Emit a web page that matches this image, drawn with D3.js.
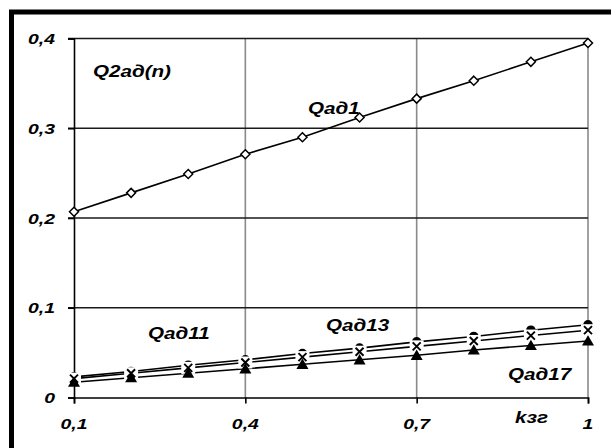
<!DOCTYPE html>
<html>
<head>
<meta charset="utf-8">
<script src="https://cdn.jsdelivr.net/npm/d3@7"></script>
<style>
  html, body { margin: 0; padding: 0; background: #fff; }
  svg { display: block; }
  text { font-family: "Liberation Sans", Arial, sans-serif; font-weight: bold; font-style: italic; fill: #000; }
</style>
</head>
<body>
<svg id="chart" width="611" height="448"></svg>
<script>
// Load factor kзг (x axis)
const kzg = [0.1, 0.2, 0.3, 0.4, 0.5, 0.6, 0.7, 0.8, 0.9, 1.0];

// Q2ад(n) by harmonic
const qad1  = [0.207, 0.228, 0.249, 0.271, 0.290, 0.312, 0.333, 0.353, 0.374, 0.395];
const qad11 = [0.023, 0.029, 0.036, 0.042, 0.049, 0.055, 0.062, 0.068, 0.075, 0.081];
const qad13 = [0.021, 0.027, 0.033, 0.039, 0.045, 0.051, 0.057, 0.063, 0.069, 0.075];
const qad17 = [0.017, 0.022, 0.027, 0.032, 0.037, 0.042, 0.047, 0.053, 0.058, 0.063];

// Axis ticks and their labels
const xTicks = [0.1, 0.4, 0.7, 1.0];
const xTickLabels = ["0,1", "0,4", "0,7", "1"];
const yTicks = [0, 0.1, 0.2, 0.3, 0.4];
const yTickLabels = ["0", "0,1", "0,2", "0,3", "0,4"];

const svg = d3.select("#chart");
const x = d3.scaleLinear().domain([0.1, 1.0]).range([74, 588]);
const y = d3.scaleLinear().domain([0, 0.4]).range([397.5, 38.5]);

const SX = 1.25; // horizontal stretch of the lettering

function label(txt, px, py, anchor, size) {
  svg.append("text")
    .attr("transform", `translate(${px},${py}) scale(${SX},1)`)
    .attr("text-anchor", anchor || "start")
    .style("font-size", (size || 15.5) + "px")
    .text(txt);
}

// Outer frame (runs past the right and bottom edges)
svg.append("rect")
  .attr("x", 11.5).attr("y", 12)
  .attr("width", 700).attr("height", 500)
  .attr("fill", "none").attr("stroke", "#000").attr("stroke-width", 5);

// Vertical grid lines (grey)
svg.append("g").selectAll("line")
  .data(xTicks.slice(1))
  .join("line")
  .attr("x1", d => x(d)).attr("x2", d => x(d))
  .attr("y1", y(0.4)).attr("y2", y(0))
  .attr("stroke", "#8a8a8a").attr("stroke-width", 1.6);

// Horizontal grid lines (dark) with left tick stubs
svg.append("g").selectAll("line")
  .data(yTicks.filter(d => d > 0))
  .join("line")
  .attr("x1", x(0.1) - 6).attr("x2", x(1.0))
  .attr("y1", d => y(d)).attr("y2", d => y(d))
  .attr("stroke", "#1a1a1a").attr("stroke-width", 1.4);

// Axes
const yAxis = d3.axisLeft(y).tickValues(yTicks).tickSize(6).tickFormat("");
const xAxis = d3.axisBottom(x).tickValues(xTicks).tickSize(6).tickFormat("");
const gy = svg.append("g").attr("transform", `translate(${x(0.1)},0)`).call(yAxis);
const gx = svg.append("g").attr("transform", `translate(0,${y(0)})`).call(xAxis);
[gx, gy].forEach(g => {
  g.select(".domain").attr("stroke", "#000").attr("stroke-width", 1.6);
  g.selectAll(".tick line").attr("stroke", "#000").attr("stroke-width", 1.6);
});

// Tick labels
yTicks.forEach((v, i) => label(yTickLabels[i], 55, y(v) + 5.5, "end", 15.5));
xTicks.forEach((v, i) => label(xTickLabels[i], x(v), 429, "middle", 15.5));

// Series lines
const line = d3.line().x(d => x(d[0])).y(d => y(d[1]));
[qad1, qad11, qad13, qad17].forEach(s => {
  svg.append("path")
    .datum(kzg.map((k, i) => [k, s[i]]))
    .attr("d", line)
    .attr("fill", "none").attr("stroke", "#000").attr("stroke-width", 1.6);
});

// Qад1: open diamonds
svg.append("g").selectAll("path")
  .data(kzg.map((k, i) => [k, qad1[i]]))
  .join("path")
  .attr("d", d3.symbol(d3.symbolDiamond2, 52))
  .attr("transform", d => `translate(${x(d[0])},${y(d[1])})`)
  .attr("fill", "#fff").attr("stroke", "#000").attr("stroke-width", 1.5);

// Qад11: filled circles
svg.append("g").selectAll("circle")
  .data(kzg.map((k, i) => [k, qad11[i]]))
  .join("circle")
  .attr("cx", d => x(d[0])).attr("cy", d => y(d[1])).attr("r", 4.8)
  .attr("fill", "#000");

// Qад13: crosses on a white backing
const g13 = svg.append("g").selectAll("g")
  .data(kzg.map((k, i) => [k, qad13[i]]))
  .join("g")
  .attr("transform", d => `translate(${x(d[0])},${y(d[1])})`);
g13.append("rect").attr("x", -7).attr("y", -6).attr("width", 14).attr("height", 12).attr("fill", "#fff");
g13.append("path").attr("d", "M-4,-4L4,4M-4,4L4,-4")
  .attr("stroke", "#000").attr("stroke-width", 1.9).attr("fill", "none");

// Qад17: filled triangles
svg.append("g").selectAll("path")
  .data(kzg.map((k, i) => [k, qad17[i]]))
  .join("path")
  .attr("d", "M0,-5.8L6,4.6L-6,4.6Z")
  .attr("transform", d => `translate(${x(d[0])},${y(d[1])})`)
  .attr("fill", "#000");

// Chart titles and series labels
label("Q2ад(n)", 93, 77, "start", 16.5);
label("Qад1", 308, 114, "start", 16.5);
label("Qад11", 148, 339, "start", 16.5);
label("Qад13", 326, 331, "start", 16.5);
label("Qад17", 508, 380, "start", 16.5);
label("kзг", 515, 423, "start", 16.5);
</script>
</body>
</html>
